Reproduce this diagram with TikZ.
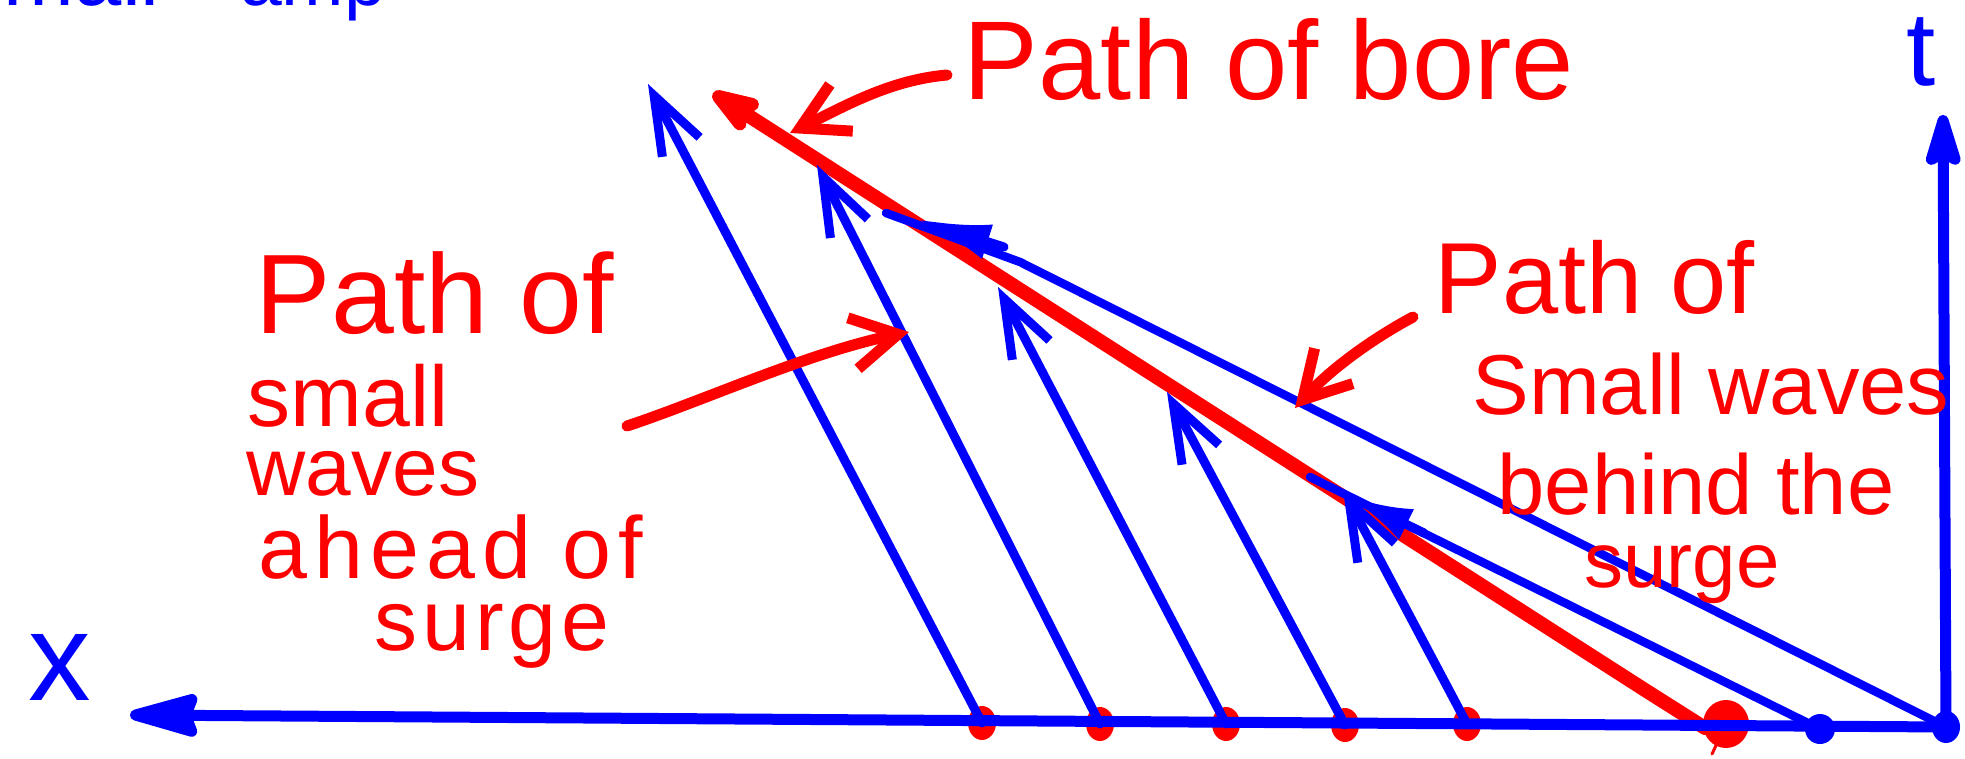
\documentclass[tikz,border=0pt]{standalone}
\usepackage{fontspec}
\setmainfont{Liberation Sans}
\usetikzlibrary{arrows.meta,shapes.geometric}
\definecolor{pred}{RGB}{255,0,0}
\definecolor{pblue}{RGB}{0,0,255}
\newcommand{\hsz}[1]{\fontsize{#1}{#1}\selectfont}
\begin{document}
\begin{tikzpicture}[x=1pt,y=-1pt,line cap=round,line join=round,
  rlbl/.style={text=pred,anchor=base,inner sep=0pt},
  blbl/.style={text=pblue,anchor=base,inner sep=0pt},
  bwave/.style={draw=pblue,line width=9pt},
  baxis/.style={draw=pblue,line width=11pt},
  warrow/.style={-{Straight Barb[length=58pt,width=42pt]}},
  rarrow/.style={draw=pred,line width=11pt,-{Straight Barb[length=46pt,width=52pt]}},
  rdot/.style={ellipse,fill=pred,inner sep=0pt,minimum width=28pt,minimum height=34pt},
  bdotst/.style={ellipse,fill=pblue,inner sep=0pt,minimum width=30pt,minimum height=30pt}]
\useasboundingbox (0,0) rectangle (1965,759);
\fill[white] (0,0) rectangle (1965,759);

% partial text cut by the top edge
\begin{scope}
\clip (0,0) rectangle (1965,759);
\node[blbl,anchor=base east] (tl1) at (160,6) {\hsz{85}small};
\node[blbl,anchor=base west] (tl2) at (240,6) {\hsz{75}amp};
\end{scope}

% points on the x axis
\node[rdot] (d1) at (982,723) {};
\node[rdot] (d2) at (1100,724) {};
\node[rdot] (d3) at (1226,724) {};
\node[rdot] (d4) at (1345,725) {};
\node[rdot] (d5) at (1467,724) {};

% path of bore
\coordinate (bk) at (1645,690);
\coordinate (btip) at (713,93);
\coordinate (bt) at (1712,754);
\draw[pred,line width=14pt,-{Stealth[length=70pt,width=48pt,inset=18pt,round]}] (1705,728) -- (bk) -- (btip);
\node[ellipse,fill=pred,inner sep=0pt,minimum width=46pt,minimum height=48pt] (bd) at (1726,724) {};
\draw[pred,line width=3pt] (bd.center) -- (bt);

% origin and blue dot
\node[bdotst] (bdot) at (1820,729) {};
\node[ellipse,fill=pblue,inner sep=0pt,minimum width=28pt,minimum height=32pt] (o) at (1946,727) {};

% small waves ahead of the surge
\coordinate (w1) at (648,84);
\coordinate (w2) at (817,165);
\coordinate (w3) at (998,287);
\coordinate (w4) at (1167,392);
\coordinate (w5) at (1343,490);
\draw[bwave,warrow] (d1.center) -- (w1);
\draw[bwave,warrow] (d2.center) -- (w2);
\draw[bwave,warrow] (d3.center) -- (w3);
\draw[bwave,warrow] (d4.center) -- (w4);
\draw[bwave,warrow] (d5.center) -- (w5);

% small waves behind the surge
\coordinate (ak) at (1020,262);
\coordinate (aEnd) at (886,213);
\coordinate (aHb) at (1004,247);
\coordinate (aHt) at (916,219);
\draw[bwave,line width=8.5pt] (o.center) -- (ak) -- (aEnd);
\draw[pblue,line width=9pt,-{Latex[length=75pt,width=36pt]}] (aHb) -- (aHt);
\coordinate (bEnd) at (1310,477);
\coordinate (bHb) at (1424,533);
\coordinate (bHt) at (1348,496);
\draw[bwave,line width=8.5pt] (bdot.center) -- (bEnd);
\draw[pblue,line width=9pt,-{Latex[length=65pt,width=34pt]}] (bHb) -- (bHt);

% axes
\coordinate (xt) at (130,715);
\coordinate (tt) at (1943,115);
\draw[baxis,-{Stealth[length=85pt,width=46pt,inset=8pt,round]}] (o.center) -- (xt);
\draw[baxis,-{Stealth[length=68pt,width=40pt,inset=10pt,round]}] (o.center) -- (tt);
\node[blbl] (tlab) at (1921,86) {\hsz{105}t};
\node[blbl] (xlab) at (60,700) {\hsz{125}x};

% labels
\node[rlbl] (bore) at (1269,100) {\hsz{112}Path of bore};
\coordinate (boreA) at (947,75);
\coordinate (boreT) at (790,133);
\draw[rarrow] (boreA) .. controls (890,80) and (845,106) .. (boreT);

\node[rlbl] (l1) at (435,334) {\hsz{113}Path of};
\node[rlbl] (l2) at (348,426) {\hsz{86}small};
\node[rlbl] (l3) at (363,495) {\hsz{82}waves};
\node[rlbl] (l4) at (451,578) {\hsz{88}\addfontfeature{LetterSpace=8}ahead of};
\node[rlbl] (l5) at (492,650) {\hsz{86}\addfontfeature{LetterSpace=6}surge};
\coordinate (lA) at (627,426);
\coordinate (lT) at (909,332);
\draw[rarrow] (lA) .. controls (700,402) and (810,352) .. (lT);

\node[rlbl] (r1) at (1595,313) {\hsz{101}Path of};
\node[rlbl] (r2) at (1711,414) {\hsz{85}Small waves};
\node[rlbl] (r3) at (1696,514) {\hsz{85}behind the};
\node[rlbl] (r4) at (1682,587) {\hsz{78}surge};
\coordinate (rA) at (1413,317);
\coordinate (rT) at (1295,408);
\draw[rarrow] (rA) .. controls (1370,340) and (1330,370) .. (rT);
\end{tikzpicture}
\end{document}
